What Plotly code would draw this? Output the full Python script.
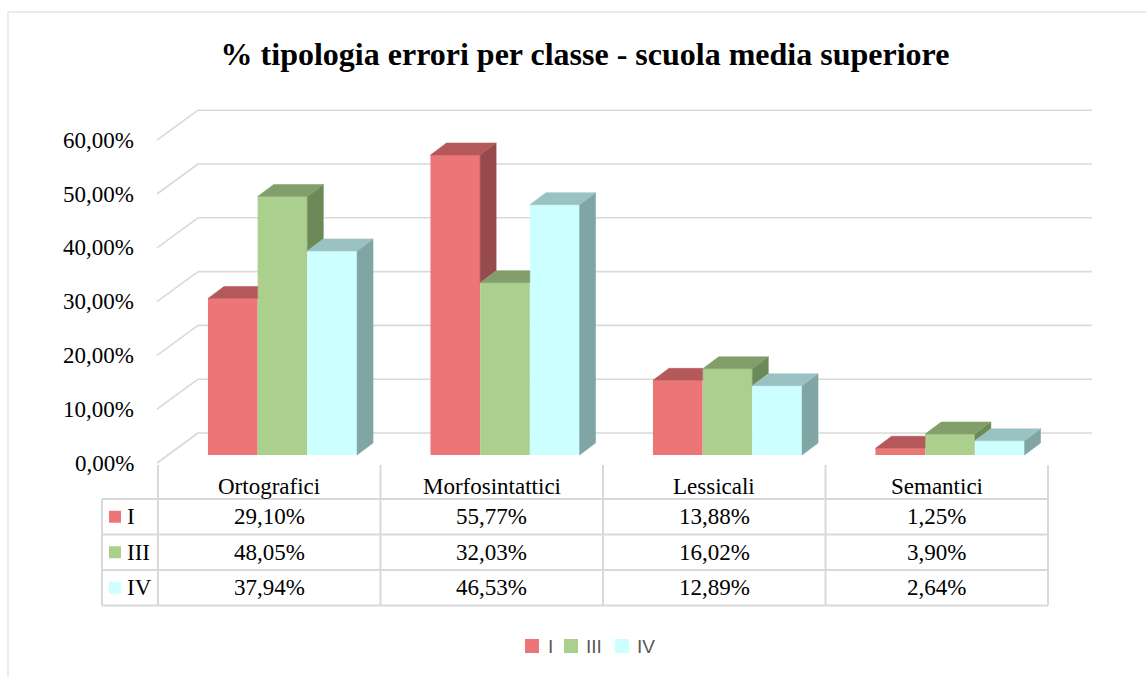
import plotly.graph_objects as go

# ---------------- data ----------------
categories = ["Ortografici", "Morfosintattici", "Lessicali", "Semantici"]
series_names = ["I", "III", "IV"]
values_I = [29.10, 55.77, 13.88, 1.25]
values_III = [48.05, 32.03, 16.02, 3.90]
values_IV = [37.94, 46.53, 12.89, 2.64]
y_ticks = [0, 10, 20, 30, 40, 50, 60]
title_text = "% tipologia errori per classe - scuola media superiore"

# ---------------- styles ----------------
front_colors = ["#EC7677", "#ABCF8C", "#CCFFFF"]
top_colors = ["#B5585A", "#829E6A", "#9BC2C2"]
side_colors = ["#964A4C", "#6C8A57", "#80A5A5"]
grid_color = "#D9D9D9"
serif = "Liberation Serif, Times New Roman, serif"
sans = "Liberation Sans, Arial, sans-serif"

# ---------------- layout geometry (pixels -> axis units) ----------------
W, H = 1146, 677
PX_X0 = 158.0      # pixel of x = -0.5 (left edge of first table column)
PX_PER_X = 222.5   # pixels per category
PX_Y0 = 455.0      # pixel of value 0 on the bar front plane
PX_PER_Y = 5.38    # pixels per percentage point


def px2x(px):
    return -0.5 + (px - PX_X0) / PX_PER_X


def px2y(py):
    return (PX_Y0 - py) / PX_PER_Y


BAR_W = 49.7 / PX_PER_X
GROUP_SHIFT = 13.25 / PX_PER_X
DX = 16.0 / PX_PER_X          # bar depth, horizontal
DY = 12.0 / PX_PER_Y          # bar depth, vertical
BACK_X_LEFT = px2x(198)
BACK_X_RIGHT = px2x(1092)
BACK_DY = 22.0 / PX_PER_Y
FRONT_X_LEFT = px2x(157)
FRONT_DY = -8.0 / PX_PER_Y

series_vals = [values_I, values_III, values_IV]
n_s = len(series_vals)
xs_cat = list(range(len(categories)))


def xoff(j):
    return GROUP_SHIFT + (j - (n_s - 1) / 2) * BAR_W


def fmt_pct(v):
    return f"{v:.2f}".replace(".", ",") + "%"


fig = go.Figure()

# front faces as bars
for j, (name, vals) in enumerate(zip(series_names, series_vals)):
    fig.add_trace(go.Bar(
        x=[i + xoff(j) for i in xs_cat], y=vals, base=0, width=BAR_W,
        marker=dict(color=front_colors[j], line=dict(width=0)),
        name=name, showlegend=False, hoverinfo="skip"))

# side and top faces (3D effect)
for i in xs_cat:
    for j in range(n_s):
        h = series_vals[j][i]
        hn = series_vals[j + 1][i] if j + 1 < n_s else None
        xl = i + xoff(j) - BAR_W / 2
        xr = i + xoff(j) + BAR_W / 2
        base = 0 if hn is None else hn
        if h > base:
            fig.add_trace(go.Scatter(
                x=[xr, xr + DX, xr + DX, xr, xr],
                y=[base, base + DY, h + DY, h, base],
                mode="lines", fill="toself", fillcolor=side_colors[j],
                line=dict(width=0.5, color=side_colors[j]),
                showlegend=False, hoverinfo="skip"))
        if hn is None or hn <= h:
            tx = [xl, xr, xr + DX, xl + DX, xl]
            ty = [h, h, h + DY, h + DY, h]
        else:
            tx = [xl, xr, xr, xl + DX, xl]
            ty = [h, h, h + DY, h + DY, h]
        fig.add_trace(go.Scatter(
            x=tx, y=ty, mode="lines", fill="toself", fillcolor=top_colors[j],
            line=dict(width=0.5, color=top_colors[j]),
            showlegend=False, hoverinfo="skip"))

shapes = []
annotations = []

# gridlines (back wall + side wall)
for t in y_ticks:
    shapes.append(dict(type="line", xref="x", yref="y", layer="below",
                       x0=BACK_X_LEFT, x1=BACK_X_RIGHT, y0=t + BACK_DY, y1=t + BACK_DY,
                       line=dict(color=grid_color, width=1.6)))
    shapes.append(dict(type="line", xref="x", yref="y", layer="below",
                       x0=FRONT_X_LEFT, x1=BACK_X_LEFT, y0=t + FRONT_DY, y1=t + BACK_DY,
                       line=dict(color=grid_color, width=1.6)))
    annotations.append(dict(x=px2x(136), y=t + FRONT_DY, xref="x", yref="y",
                            text=fmt_pct(t), showarrow=False, xanchor="right",
                            yanchor="middle", font=dict(family=serif, size=23, color="#000000")))

# data table
row_lines_px = [499, 534.5, 570, 605.5]
header_top_px = 465
label_left_px = 102
col_bounds = [c - 0.5 for c in xs_cat] + [xs_cat[-1] + 0.5]
for py in row_lines_px:
    shapes.append(dict(type="line", xref="x", yref="y", x0=px2x(label_left_px), x1=col_bounds[-1],
                       y0=px2y(py), y1=px2y(py), line=dict(color=grid_color, width=2)))
shapes.append(dict(type="line", xref="x", yref="y", x0=px2x(label_left_px), x1=px2x(label_left_px),
                   y0=px2y(row_lines_px[0]), y1=px2y(row_lines_px[-1]),
                   line=dict(color=grid_color, width=2)))
for cb in col_bounds:
    shapes.append(dict(type="line", xref="x", yref="y", x0=cb, x1=cb,
                       y0=px2y(header_top_px), y1=px2y(row_lines_px[-1]),
                       line=dict(color=grid_color, width=2)))

for i, cat in enumerate(categories):
    annotations.append(dict(x=i, y=px2y(486), xref="x", yref="y", text=cat, showarrow=False,
                            xanchor="center", yanchor="middle",
                            font=dict(family=serif, size=23, color="#000000")))

for j, (name, vals) in enumerate(zip(series_names, series_vals)):
    yc = px2y((row_lines_px[j] + row_lines_px[j + 1]) / 2)
    sq = 6.0
    shapes.append(dict(type="rect", xref="x", yref="y", line=dict(width=0),
                       fillcolor=front_colors[j],
                       x0=px2x(115 - sq), x1=px2x(115 + sq),
                       y0=yc - sq / PX_PER_Y, y1=yc + sq / PX_PER_Y))
    annotations.append(dict(x=px2x(125), y=yc, xref="x", yref="y", text=name, showarrow=False,
                            xanchor="left", yanchor="middle",
                            font=dict(family=serif, size=23, color="#000000")))
    for i, v in enumerate(vals):
        annotations.append(dict(x=i, y=yc, xref="x", yref="y", text=fmt_pct(v), showarrow=False,
                                xanchor="center", yanchor="middle",
                                font=dict(family=serif, size=23, color="#000000")))

# legend (bottom)
legend_sq_left_px = [525, 564, 615]
legend_txt_left_px = [546, 584, 635]
legend_yc = px2y(646)
for j, name in enumerate(series_names):
    shapes.append(dict(type="rect", xref="x", yref="y", line=dict(width=0),
                       fillcolor=front_colors[j],
                       x0=px2x(legend_sq_left_px[j]), x1=px2x(legend_sq_left_px[j] + 14),
                       y0=legend_yc - 7 / PX_PER_Y, y1=legend_yc + 7 / PX_PER_Y))
    annotations.append(dict(x=px2x(legend_txt_left_px[j]), y=legend_yc, xref="x", yref="y",
                            text=name, showarrow=False, xanchor="left", yanchor="middle",
                            font=dict(family=sans, size=19, color="#595959")))

# chart border
shapes.append(dict(type="rect", xref="paper", yref="paper", layer="below",
                   x0=8 / W, x1=1.2, y0=-0.2, y1=1 - 12 / H,
                   line=dict(color=grid_color, width=1)))

fig.update_layout(
    width=W, height=H,
    margin=dict(l=0, r=0, t=0, b=0),
    paper_bgcolor="white", plot_bgcolor="white",
    barmode="overlay",
    title=dict(text=f"<b>{title_text}</b>", x=585 / W, xanchor="center",
               y=1 - 54 / H, yanchor="middle",
               font=dict(family=serif, size=32, color="#000000")),
    xaxis=dict(visible=False, range=[px2x(0), px2x(W)], fixedrange=True),
    yaxis=dict(visible=False, range=[px2y(H), px2y(0)], fixedrange=True),
    shapes=shapes,
    annotations=annotations,
    showlegend=False,
)

fig.write_html("out.html", config={"displayModeBar": False},
               post_script="document.body.style.margin='0';document.body.style.overflow='hidden';")
